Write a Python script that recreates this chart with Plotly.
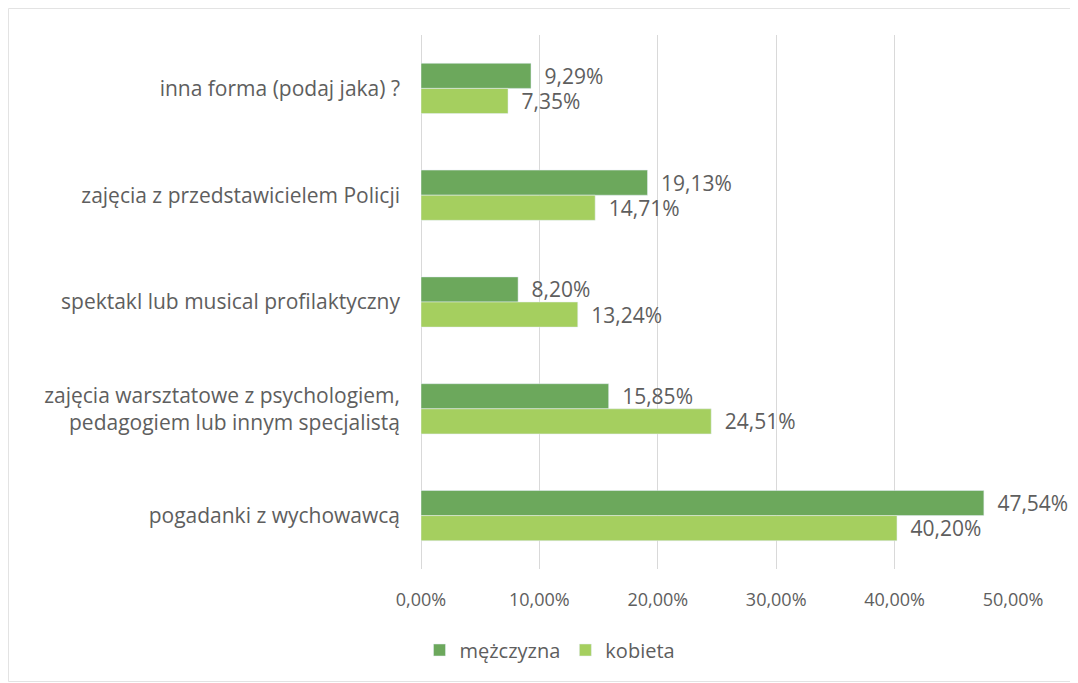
import plotly.graph_objects as go

categories = [
    "inna forma (podaj jaka) ?",
    "zajęcia z przedstawicielem Policji",
    "spektakl lub musical profilaktyczny",
    "zajęcia warsztatowe z psychologiem,<br>pedagogiem lub innym specjalistą",
    "pogadanki z wychowawcą",
]
mezczyzna = [0.0929, 0.1913, 0.0820, 0.1585, 0.4754]
kobieta = [0.0735, 0.1471, 0.1324, 0.2451, 0.4020]
x_ticks = [0, 0.1, 0.2, 0.3, 0.4, 0.5]

FONT = "Open Sans"
GRAY = "#5E5E5E"

W, H = 1070, 675
L, R, T, B = 413, 65, 27, 114
PW, PH = W - L - R, H - T - B

fig = go.Figure()
fig.add_trace(go.Bar(
    y=categories, x=mezczyzna, orientation="h", name="mężczyzna",
    marker=dict(color="#6CA85C"),
    texttemplate="\u2002%{x:.2%}", textposition="outside",
    textfont=dict(size=21, color=GRAY, family=FONT),
    constraintext="none", cliponaxis=False,
))
fig.add_trace(go.Bar(
    y=categories, x=kobieta, orientation="h", name="kobieta",
    marker=dict(color="#A5CF5F"),
    texttemplate="\u2002%{x:.2%}", textposition="outside",
    textfont=dict(size=21, color=GRAY, family=FONT),
    constraintext="none", cliponaxis=False,
))

fig.update_layout(
    width=W, height=H,
    separators=",.",
    barmode="group", bargap=0.53, bargroupgap=0,
    plot_bgcolor="white", paper_bgcolor="white",
    margin=dict(l=L, r=R, t=T, b=B, autoexpand=False),
    font=dict(family=FONT, size=20, color=GRAY),
    legend=dict(orientation="h", x=(542 - L) / PW, xanchor="center",
                y=-(642 - (T + PH)) / PH, yanchor="middle",
                font=dict(size=20, color=GRAY, family=FONT), itemwidth=30,
                traceorder="normal"),
    xaxis=dict(range=[0, 0.5], tickvals=x_ticks, tickformat=".2%",
               showgrid=True, gridcolor="#D9D9D9", gridwidth=1,
               zeroline=True, zerolinecolor="#D9D9D9", zerolinewidth=1,
               showline=False, ticks="", ticklabelstandoff=18, automargin=False,
               tickfont=dict(size=18, color=GRAY, family=FONT)),
    yaxis=dict(autorange="reversed", showgrid=False, showline=False, ticks="",
               ticklabelstandoff=20, automargin=False,
               tickfont=dict(size=21, color=GRAY, family=FONT)),
    shapes=[dict(type="rect", xref="paper", yref="paper",
                 x0=-(L - 0.5) / PW, x1=1 + (R - 1.5) / PW,
                 y0=-(B - 1.5) / PH, y1=1 + (T - 0.5) / PH,
                 line=dict(color="#E3E3E3", width=1), fillcolor="rgba(0,0,0,0)",
                 layer="below")],
)

fig.write_html("out.html")
